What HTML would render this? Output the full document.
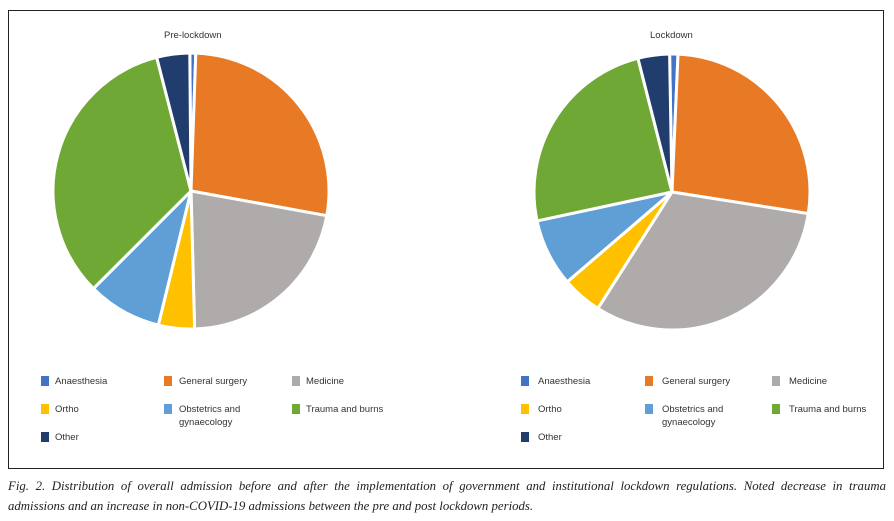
<!DOCTYPE html>
<html><head><meta charset="utf-8"><style>
body{margin:0;background:#fff;width:894px;height:521px;overflow:hidden;position:relative;font-family:"Liberation Sans Narrow","Liberation Sans",sans-serif}
.frame{position:absolute;left:8px;top:10px;width:876px;height:459px;border:1px solid #222;box-sizing:border-box}
.t{position:absolute;font-size:9.5px;color:#333;line-height:13px}
.sq{position:absolute;width:8px;height:10px}
.cap{position:absolute;left:8px;width:878px;font-family:"Liberation Serif",serif;font-style:italic;font-size:12.8px;color:#222;line-height:20px;white-space:nowrap}
</style></head><body>
<div class="frame"></div>
<svg id="s" width="894" height="521" style="position:absolute;left:0;top:0"></svg>
<div class="t" style="left:164px;top:29px;font-family:'Liberation Sans',sans-serif;font-size:9.5px">Pre-lockdown</div>
<div class="t" style="left:650px;top:29px;font-family:'Liberation Sans',sans-serif;font-size:9.5px">Lockdown</div>
<div id="leg"></div>
<div class="cap" style="top:476px;text-align:justify;text-align-last:justify;white-space:normal">Fig. 2. Distribution of overall admission before and after the implementation of government and institutional lockdown regulations. Noted decrease in trauma</div>
<div class="cap" style="top:496px">admissions and an increase in non-COVID-19 admissions between the pre and post lockdown periods.</div>
<script>
var C=['#4472c4','#e97a25','#afabab','#ffc000','#5f9fd6','#70a835','#213d6e'];
function pie(cx,cy,r,b){var s='';for(var i=0;i<b.length-1;i++){var a0=b[i]*Math.PI/180,a1=b[i+1]*Math.PI/180;
var x0=cx+r*Math.sin(a0),y0=cy-r*Math.cos(a0),x1=cx+r*Math.sin(a1),y1=cy-r*Math.cos(a1);
s+='<path d="M'+cx+','+cy+'L'+x0+','+y0+'A'+r+','+r+' 0 '+((b[i+1]-b[i])>180?1:0)+' 1 '+x1+','+y1+'Z" fill="'+C[i]+'" stroke="#fff" stroke-width="3" stroke-linejoin="round"/>';}return s;}
document.getElementById('s').innerHTML=pie(191,191,138,[-0.5,2,100.3,178.5,193.7,225,345.6,359.5])+pie(672,192,138,[-1,2.5,99,212.5,229.4,257.9,345.7,359]);
var L=['Anaesthesia','General surgery','Medicine','Ortho','Obstetrics and<br>gynaecology','Trauma and burns','Other'];
var h='';[[41,55,164,179,292,306],[521,538,645,662,772,789]].forEach(function(p){for(var i=0;i<7;i++){var c=i%3,r=Math.floor(i/3);var y=[375,403,431][r];
h+='<div class="sq" style="left:'+p[c*2]+'px;top:'+(y+1)+'px;background:'+C[i]+'"></div><div class="t" style="left:'+p[c*2+1]+'px;top:'+y+'px">'+L[i]+'</div>';}});
document.getElementById('leg').innerHTML=h;
</script>
</body></html>
